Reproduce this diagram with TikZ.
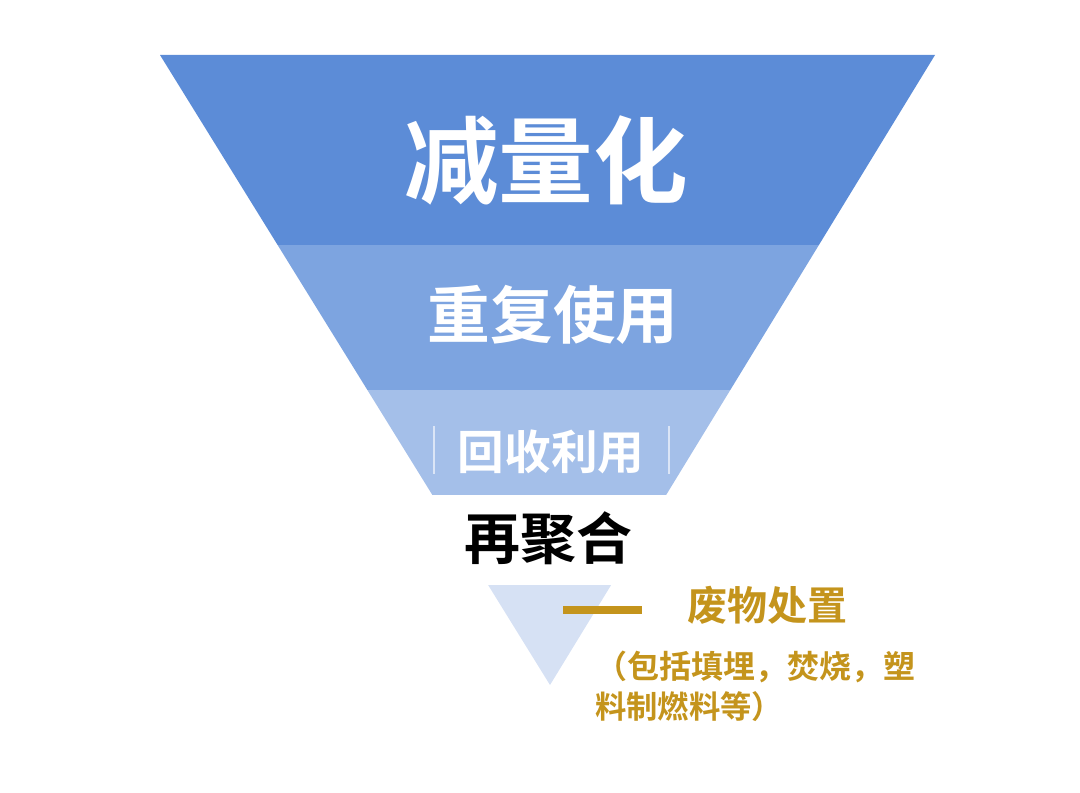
\documentclass[tikz,border=0pt]{standalone}
\usepackage{fontspec}
\newfontfamily\cjk{Noto Sans CJK SC}[BoldFont={Noto Sans CJK SC Bold}]
\definecolor{bandA}{RGB}{92,140,215}
\definecolor{bandB}{RGB}{125,164,224}
\definecolor{bandC}{RGB}{164,191,233}
\definecolor{bandD}{RGB}{214,225,244}
\definecolor{goldc}{RGB}{196,148,28}
\tikzset{
  lbl/.style={inner sep=0pt, font=\cjk\bfseries},
}
\begin{document}
\begin{tikzpicture}[x=0.75pt,y=-0.75pt]
\useasboundingbox (0,0) rectangle (1080,792);
\coordinate (TL) at (160,55);
\coordinate (TR) at (935,55);
\coordinate (AP) at (550,685);
\begin{scope}
\clip (TL) -- (TR) -- (AP) -- cycle;
\fill[bandA] (0,50) rectangle (1080,245);
\fill[bandB] (0,245) rectangle (1080,390);
\fill[bandC] (0,390) rectangle (1080,495);
\fill[bandD] (0,585) rectangle (1080,700);
\end{scope}
\draw[white!60!bandC, line width=0.8pt] (434,426) -- (434,474);
\draw[white!60!bandC, line width=0.8pt] (669,426) -- (669,474);
\fill[white] (580,637) rectangle (932,730);
\node[lbl, text=white, font=\cjk\bfseries\fontsize{71}{80}\selectfont] (t1) at (546,160) {减量化};
\node[lbl, text=white, font=\cjk\bfseries\fontsize{47}{54}\selectfont] (t2) at (553,315) {重复使用};
\node[lbl, text=white, font=\cjk\bfseries\fontsize{35}{40}\selectfont] (t3) at (551,452) {回收利用};
\node[lbl, text=black, font=\cjk\bfseries\fontsize{42}{48}\selectfont] (t4) at (548,538) {再聚合};
\coordinate (d1) at (563,610);
\coordinate (d2) at (642,610);
\draw[goldc, line width=6pt] (d1) -- (d2);
\node[lbl, text=goldc, font=\cjk\bfseries\fontsize{30}{36}\selectfont] (t5) at (767,605) {废物处置};
\node[lbl, text=goldc, anchor=west, font=\cjk\bfseries\fontsize{24}{30}\selectfont] (t6) at (595,667) {（包括填埋，焚烧，塑};
\node[lbl, text=goldc, anchor=west, font=\cjk\bfseries\fontsize{23.5}{30}\selectfont] (t7) at (595,707) {料制燃料等）};
\end{tikzpicture}
\end{document}
